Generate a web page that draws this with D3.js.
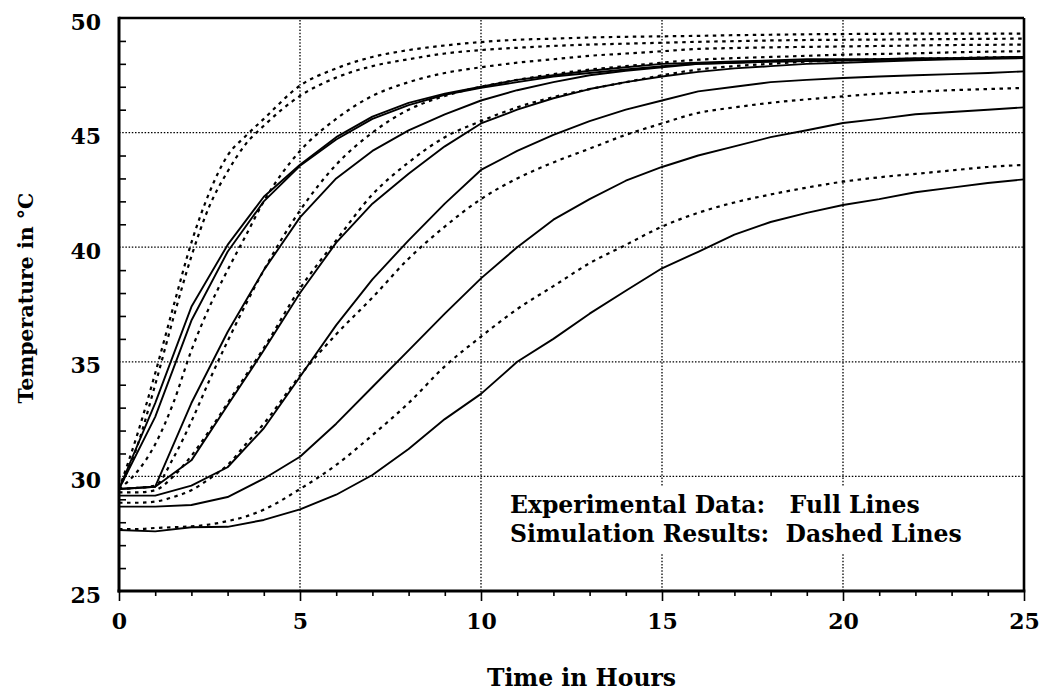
<!DOCTYPE html>
<html>
<head>
<meta charset="utf-8">
<script src="https://cdn.jsdelivr.net/npm/d3@7"></script>
<style>
  body { margin: 0; background: #fff; }
  svg { display: block; }
  text { font-family: "DejaVu Serif", serif; font-weight: bold; fill: #000; }
</style>
</head>
<body>
<svg id="chart" width="1050" height="691"></svg>
<script>
// Measurement times (hours) for the experimental runs
const expHours = [0, 1, 2, 3, 4, 5, 6, 7, 8, 9, 10, 11, 12, 13, 14, 15, 16, 17, 18, 19, 20, 21, 22, 23, 24, 25];

// Experimental temperatures (°C), full lines
const exp1 = [29.45, 33.2, 37.4, 40.1, 42.2, 43.6, 44.8, 45.7, 46.3, 46.7, 47.0, 47.3, 47.5, 47.7, 47.85, 48.0, 48.05, 48.1, 48.15, 48.2, 48.2, 48.2, 48.25, 48.25, 48.28, 48.3];
const exp2 = [29.45, 32.6, 36.8, 39.8, 42.0, 43.55, 44.7, 45.6, 46.2, 46.65, 46.95, 47.2, 47.45, 47.6, 47.75, 47.9, 48.0, 48.05, 48.1, 48.12, 48.15, 48.18, 48.2, 48.22, 48.25, 48.28];
const exp3 = [29.45, 29.55, 33.2, 36.3, 39.0, 41.3, 43.0, 44.2, 45.1, 45.8, 46.4, 46.85, 47.2, 47.5, 47.7, 47.85, 48.0, 48.05, 48.1, 48.12, 48.15, 48.18, 48.2, 48.22, 48.25, 48.3];
const exp4 = [29.45, 29.55, 30.7, 33.1, 35.5, 38.0, 40.2, 41.9, 43.2, 44.4, 45.4, 46.0, 46.5, 46.9, 47.2, 47.45, 47.65, 47.8, 47.9, 48.0, 48.05, 48.1, 48.15, 48.2, 48.22, 48.25];
const exp5 = [29.16, 29.16, 29.6, 30.4, 32.1, 34.35, 36.6, 38.6, 40.3, 41.9, 43.37, 44.2, 44.9, 45.5, 46.0, 46.4, 46.8, 47.0, 47.2, 47.3, 47.38, 47.45, 47.5, 47.55, 47.6, 47.67];
const exp6 = [28.68, 28.68, 28.75, 29.1, 29.9, 30.86, 32.3, 33.9, 35.5, 37.1, 38.64, 40.0, 41.2, 42.1, 42.9, 43.5, 44.0, 44.4, 44.8, 45.1, 45.42, 45.6, 45.8, 45.9, 46.0, 46.1];
const exp7 = [27.66, 27.6, 27.78, 27.8, 28.1, 28.56, 29.2, 30.06, 31.2, 32.5, 33.6, 35.0, 36.0, 37.1, 38.1, 39.08, 39.8, 40.55, 41.1, 41.5, 41.84, 42.1, 42.4, 42.6, 42.8, 42.96];

// Output times (hours) of the simulation runs
const simHours = [0, 0.5, 1, 1.5, 2, 2.5, 3, 3.5, 4, 5, 6, 7, 8, 9, 10, 11, 12, 13, 14, 15, 16, 17, 18, 19, 20, 21, 22, 23, 24, 25];

// Simulated temperatures (°C), dashed lines
const sim1 = [29.45, 31.8, 34.5, 37.4, 40.2, 42.4, 44.0, 44.85, 45.6, 47.05, 47.8, 48.3, 48.6, 48.8, 48.95, 49.05, 49.1, 49.15, 49.18, 49.2, 49.22, 49.25, 49.27, 49.29, 49.3, 49.31, 49.32, 49.32, 49.32, 49.32];
const sim2 = [29.45, 31.3, 34.0, 36.9, 39.6, 41.8, 43.3, 44.5, 45.3, 46.6, 47.4, 47.9, 48.2, 48.45, 48.6, 48.7, 48.78, 48.84, 48.88, 48.92, 48.96, 48.99, 49.02, 49.04, 49.05, 49.06, 49.07, 49.08, 49.09, 49.1];
const sim3 = [29.45, 30.2, 31.4, 33.2, 35.5, 37.4, 39.0, 40.5, 42.0, 44.2, 45.6, 46.6, 47.2, 47.6, 47.85, 48.05, 48.2, 48.35, 48.45, 48.55, 48.65, 48.69, 48.72, 48.74, 48.76, 48.78, 48.8, 48.82, 48.83, 48.84];
const sim4 = [29.45, 29.5, 29.6, 30.8, 32.4, 34.2, 35.9, 37.5, 39.0, 41.6, 43.6, 45.0, 46.0, 46.6, 47.0, 47.3, 47.55, 47.75, 47.9, 48.05, 48.18, 48.25, 48.3, 48.35, 48.4, 48.43, 48.46, 48.5, 48.53, 48.55];
const sim5 = [29.3, 29.3, 29.4, 30.0, 30.9, 32.0, 33.2, 34.4, 35.6, 38.2, 40.3, 42.3, 43.7, 44.8, 45.5, 46.1, 46.55, 46.9, 47.2, 47.5, 47.75, 47.9, 48.0, 48.1, 48.15, 48.2, 48.22, 48.25, 48.28, 48.3];
const sim6 = [28.85, 28.85, 28.9, 29.1, 29.4, 29.9, 30.5, 31.4, 32.3, 34.4, 36.2, 37.8, 39.5, 40.9, 42.1, 43.0, 43.7, 44.3, 44.9, 45.4, 45.86, 46.1, 46.3, 46.45, 46.58, 46.7, 46.78, 46.85, 46.9, 46.95];
const sim7 = [27.7, 27.7, 27.75, 27.78, 27.82, 27.9, 28.05, 28.25, 28.55, 29.45, 30.5, 31.8, 33.2, 34.8, 36.1, 37.3, 38.3, 39.3, 40.1, 40.9, 41.5, 41.95, 42.3, 42.6, 42.86, 43.05, 43.2, 43.35, 43.5, 43.59];

// Axis tick values and labels
const xMajorTicks = [0, 5, 10, 15, 20, 25];
const yMajorTicks = [25, 30, 35, 40, 45, 50];
const xMinorTicks = [1, 2, 3, 4, 6, 7, 8, 9, 11, 12, 13, 14, 16, 17, 18, 19, 21, 22, 23, 24];
const yMinorTicks = [26, 27, 28, 29, 31, 32, 33, 34, 36, 37, 38, 39, 41, 42, 43, 44, 46, 47, 48, 49];
const xGridValues = [5, 10, 15, 20];
const yGridValues = [30, 35, 40, 45];

const xTitle = "Time in Hours";
const yTitle = "Temperature in °C";
const legendLines = ["Experimental Data:   Full Lines", "Simulation Results:  Dashed Lines"];

const experimental = [exp1, exp2, exp3, exp4, exp5, exp6, exp7];
const simulated = [sim1, sim2, sim3, sim4, sim5, sim6, sim7];

// Plot frame
const plotLeft = 119, plotRight = 1024, plotTop = 18, plotBottom = 591;

const svg = d3.select("#chart");
const x = d3.scaleLinear().domain([0, 25]).range([plotLeft, plotRight]);
const y = d3.scaleLinear().domain([25, 50]).range([plotBottom, plotTop]);

// Dotted grid
const grid = svg.append("g")
  .attr("stroke", "#000")
  .attr("stroke-width", 1.3)
  .attr("stroke-dasharray", "1.5,1.7");
grid.selectAll("line.v").data(xGridValues).join("line")
  .attr("class", "v")
  .attr("x1", d => x(d)).attr("x2", d => x(d))
  .attr("y1", y(25)).attr("y2", y(50));
grid.selectAll("line.h").data(yGridValues).join("line")
  .attr("class", "h")
  .attr("x1", x(0)).attr("x2", x(25))
  .attr("y1", d => y(d)).attr("y2", d => y(d));

// Key text with a white backing that interrupts the grid
svg.append("rect")
  .attr("x", 505).attr("y", 487)
  .attr("width", 458).attr("height", 66)
  .attr("fill", "#fff");
svg.append("g").selectAll("text").data(legendLines).join("text")
  .attr("x", 510)
  .attr("y", (d, i) => 513 + i * 29)
  .attr("font-size", 23.5)
  .style("white-space", "pre")
  .text(d => d);

// Curves
const expLine = d3.line()
  .x((d, i) => x(expHours[i]))
  .y(d => y(d))
  .curve(d3.curveLinear);
const simLine = d3.line()
  .x((d, i) => x(simHours[i]))
  .y(d => y(d))
  .curve(d3.curveMonotoneX);

svg.append("g").selectAll("path").data(simulated).join("path")
  .attr("d", simLine)
  .attr("fill", "none")
  .attr("stroke", "#000")
  .attr("stroke-width", 2.2)
  .attr("stroke-dasharray", "3.5,4.5");

svg.append("g").selectAll("path").data(experimental).join("path")
  .attr("d", expLine)
  .attr("fill", "none")
  .attr("stroke", "#000")
  .attr("stroke-width", 1.9)
  .attr("stroke-linejoin", "round");

// Axes
const xAxisMajor = d3.axisBottom(x).tickValues(xMajorTicks).tickSize(10).tickPadding(12).tickFormat(d3.format("d"));
const xAxisMinor = d3.axisBottom(x).tickValues(xMinorTicks).tickSize(5).tickFormat("");
const yAxisMajor = d3.axisLeft(y).tickValues(yMajorTicks).tickSize(0).tickPadding(18).tickFormat(d3.format("d"));
const yAxisMinor = d3.axisRight(y).tickValues(yMinorTicks).tickSize(7).tickFormat("");

const gx = svg.append("g").attr("transform", `translate(0,${plotBottom})`).call(xAxisMajor);
svg.append("g").attr("transform", `translate(0,${plotBottom})`).call(xAxisMinor);
const gy = svg.append("g").attr("transform", `translate(${plotLeft},0)`).call(yAxisMajor);
svg.append("g").attr("transform", `translate(${plotLeft},0)`).call(yAxisMinor);

svg.selectAll(".domain").remove();
svg.selectAll(".tick line").attr("stroke", "#000").attr("stroke-width", 1.6);
gx.selectAll("text").attr("font-size", 22).attr("font-family", null);
gy.selectAll("text").attr("font-size", 22).attr("font-family", null).attr("dy", "0.5em");

// Frame: heavier left and bottom axes, lighter top and right borders
svg.append("line").attr("x1", x(0)).attr("x2", x(25)).attr("y1", plotTop).attr("y2", plotTop)
  .attr("stroke", "#000").attr("stroke-width", 2.4);
svg.append("line").attr("x1", x(25)).attr("x2", x(25)).attr("y1", plotTop).attr("y2", plotBottom)
  .attr("stroke", "#000").attr("stroke-width", 2.6);
svg.append("line").attr("x1", x(0)).attr("x2", x(0)).attr("y1", plotTop - 1.2).attr("y2", plotBottom + 1.5)
  .attr("stroke", "#000").attr("stroke-width", 3);
svg.append("line").attr("x1", x(0) - 1.5).attr("x2", x(25) + 1.3).attr("y1", plotBottom).attr("y2", plotBottom)
  .attr("stroke", "#000").attr("stroke-width", 3);

// Axis titles
svg.append("text")
  .attr("x", (plotLeft + plotRight) / 2 + 10)
  .attr("y", 686)
  .attr("text-anchor", "middle")
  .attr("font-size", 23.5)
  .text(xTitle);
svg.append("text")
  .attr("transform", `translate(33,${298}) rotate(-90)`)
  .attr("text-anchor", "middle")
  .attr("font-size", 20.5)
  .text(yTitle);
</script>
</body>
</html>
